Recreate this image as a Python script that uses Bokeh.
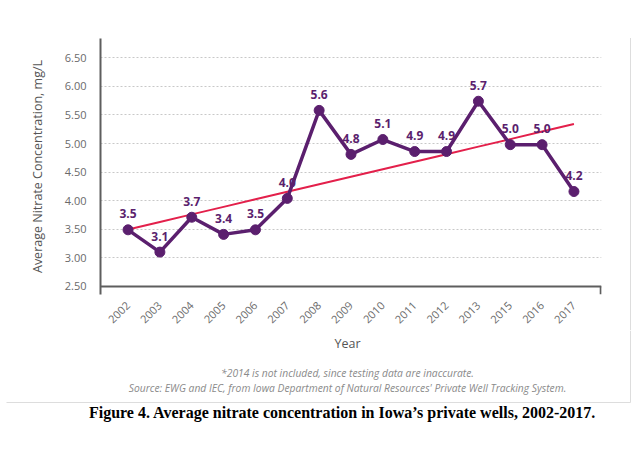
import math
import numpy as np
from bokeh.plotting import figure
from bokeh.models import (FactorRange, Range1d, FixedTicker, Label, Span,
                          ColumnDataSource, NumeralTickFormatter)
from bokeh.core.properties import value
from bokeh.embed import file_html
from bokeh.resources import INLINE

# ---- data ----
years = ["2002", "2003", "2004", "2005", "2006", "2007", "2008", "2009",
         "2010", "2011", "2012", "2013", "2015", "2016", "2017"]
nitrate = [3.49, 3.10, 3.71, 3.41, 3.49, 4.04, 5.58, 4.81,
           5.07, 4.86, 4.86, 5.74, 4.98, 4.98, 4.16]
y_ticks = [2.5, 3.0, 3.5, 4.0, 4.5, 5.0, 5.5, 6.0, 6.5]

title_y = "Average Nitrate Concentration, mg/L"
title_x = "Year"
note1 = "*2014 is not included, since testing data are inaccurate."
note2 = "Source: EWG and IEC, from Iowa Department of Natural Resources' Private Well Tracking System."
caption = "Figure 4. Average nitrate concentration in Iowa\u2019s private wells, 2002-2017."

PURPLE = "#5b1f6e"
RED = "#e3204b"
AXIS = "#5e5e5e"
FONT = "Open Sans"

# linear trend fitted to the series
idx = np.arange(len(nitrate))
slope, icpt = np.polyfit(idx, nitrate, 1)
trend = list(icpt + slope * idx)

src = ColumnDataSource(dict(
    year=years, val=nitrate, trend=trend,
    lab=["%.1f" % v for v in nitrate]))

W = 636
TOP_H = 330
p = figure(frame_width=501, frame_height=256, output_backend="svg",
           toolbar_location=None,
           x_range=FactorRange(factors=years, range_padding=0.365,
                               range_padding_units="absolute"),
           y_range=Range1d(2.358, 6.838),
           min_border_left=100, min_border_right=W - 601, min_border_top=38,
           min_border_bottom=TOP_H - 294)
p.outline_line_color = None
p.background_fill_color = "white"
p.border_fill_color = None
# faint right edge of the embedded figure box
p.styles = {"background-color": "white",
            "background-image": "linear-gradient(#dddddd, #dddddd)",
            "background-size": "1px %dpx" % (TOP_H - 38),
            "background-position": "630px 38px",
            "background-repeat": "no-repeat"}

# axes
p.yaxis.ticker = FixedTicker(ticks=y_ticks)
p.yaxis.formatter = NumeralTickFormatter(format="0.00")
p.yaxis.axis_line_color = AXIS
p.yaxis.axis_line_width = 2
p.yaxis.major_tick_line_color = None
p.yaxis.minor_tick_line_color = None
p.yaxis.major_label_text_font = FONT
p.yaxis.major_label_text_font_size = "11px"
p.yaxis.major_label_text_color = "#6a6a6a"
p.yaxis.major_label_standoff = 8
p.yaxis.axis_label = title_y
p.yaxis.axis_label_text_font = FONT
p.yaxis.axis_label_text_font_size = "12.5px"
p.yaxis.axis_label_text_font_style = "normal"
p.yaxis.axis_label_text_color = "#555555"
p.yaxis.axis_label_standoff = 16

p.xaxis.axis_line_color = None
p.xaxis.major_tick_line_color = None
p.xaxis.minor_tick_line_color = None
p.xaxis.major_label_orientation = math.pi / 4
p.xaxis.major_label_text_font = FONT
p.xaxis.major_label_text_font_size = "11px"
p.xaxis.major_label_text_color = "#6a6a6a"
p.xaxis.major_label_standoff = 3

p.xgrid.grid_line_color = None
p.ygrid.ticker = FixedTicker(ticks=y_ticks)
p.ygrid.grid_line_color = "#c8c8c8"
p.ygrid.grid_line_dash = "2 2"
p.ygrid.grid_line_width = 1

# x-axis baseline at 2.50 and the right end tick
p.add_layout(Span(location=2.5, dimension="width", line_color=AXIS, line_width=2))
p.segment(x0=[15.34], y0=[2.5], x1=[15.34], y1=[2.358], line_color=AXIS, line_width=2)

# trend line and series
p.line("year", "trend", source=src, line_color=RED, line_width=2)
p.line("year", "val", source=src, line_color=PURPLE, line_width=3.5)
p.scatter("year", "val", source=src, size=10, fill_color=PURPLE, line_color=PURPLE)
p.text("year", "val", text="lab", source=src, y_offset=-16,
       text_align="center", text_baseline="middle",
       text_font=value(FONT), text_font_size="12px", text_font_style="bold",
       text_color=PURPLE)

# ---- footer panel (coordinates = page pixels) ----
FOOT_H = 440 - TOP_H
f = figure(width=W, height=FOOT_H, output_backend="svg", toolbar_location=None,
           x_range=Range1d(0, W), y_range=Range1d(440, TOP_H),
           min_border=0)
f.axis.visible = False
f.grid.visible = False
f.outline_line_color = None
f.background_fill_color = "white"
f.border_fill_color = "white"

def lab(x, y, text, **kw):
    f.add_layout(Label(x=x, y=y, text=text, text_align="center",
                       text_baseline="middle", **kw))

lab(347, 343, title_x, text_font=FONT, text_font_size="12.5px", text_color="#555555")
lab(347, 372, note1, text_font=FONT, text_font_size="10.3px", text_font_style="italic",
    text_color="#8a8a8a")
lab(347, 387, note2, text_font=FONT, text_font_size="10.3px", text_font_style="italic",
    text_color="#8a8a8a")
lab(342, 412, caption, text_font="Liberation Serif", text_font_size="16px",
    text_font_style="bold", text_color="black")

f.segment(x0=[6, 630], y0=[402, TOP_H], x1=[630, 630], y1=[402, 402],
          line_color="#dddddd", line_width=1)

open("out.html", "w").write(file_html([p, f], INLINE))
